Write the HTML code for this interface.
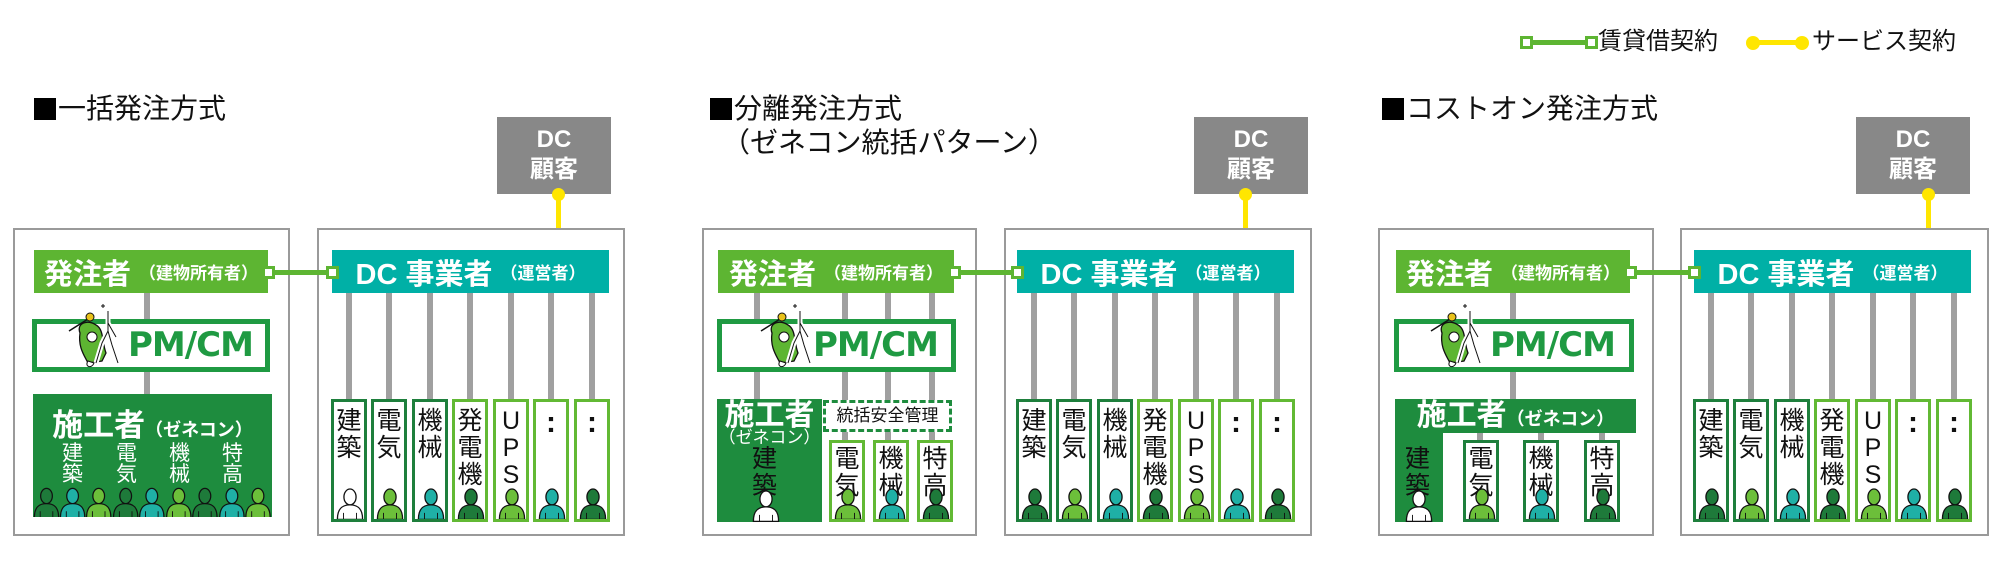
<!DOCTYPE html>
<html><head><meta charset="utf-8">
<style>
*{margin:0;padding:0;box-sizing:border-box}
body{width:2000px;height:568px;background:#fff;position:relative;overflow:hidden;font-family:"Liberation Sans","Noto Sans CJK JP",sans-serif}
.a{position:absolute}
.ob{position:absolute;top:228px;height:308px;border:2px solid #9a9a9a;background:#fff}
.gl{position:absolute;width:6px;background:#a0a0a0}
.bar{position:absolute;top:250px;height:43px;display:flex;align-items:center;justify-content:center;color:#fff;font-weight:bold;white-space:nowrap}
.own{background:#5db532}
.dc{background:#00b0a6}
.big{font-size:29px}
.sm{font-size:17px;margin-left:8px}
.sq{position:absolute;width:13px;height:13px;border:3px solid #5db532;background:#fff;top:266px}
.cn{position:absolute;height:5px;background:#5db532;top:270px}
.pm{position:absolute;top:319px;height:53px;border:5px solid #1f9a42;background:#fff;color:#1f9a42;font-weight:bold;font-size:34px;line-height:43px;font-family:"DejaVu Sans","Liberation Sans",sans-serif;letter-spacing:-1px}
.col{position:absolute;top:399px;height:123px;width:36px;border:3px solid;background:#fff;overflow:hidden}
.dk{border-color:#1e7f3c}.lt{border-color:#62b934}
.vt{position:absolute;left:0;right:0;top:6px;text-align:center;font-size:25px;line-height:27px;color:#111}
.dt{font-size:30px;font-weight:bold;line-height:30px}
.col svg,.pp{position:absolute;bottom:-1px;left:2px;width:28px;height:33px}
.gc{position:absolute;top:117px;height:77px;width:114px;background:#888;color:#fff;font-weight:bold;text-align:center;font-size:24px;line-height:30px;padding-top:8px}
.yl{position:absolute;width:5px;background:#ffe600;top:194px;height:56px}
.yd{position:absolute;width:13px;height:13px;border-radius:50%;background:#ffe600}
.ttl{position:absolute;font-size:28px;color:#111;white-space:nowrap;line-height:34px}
.bk{display:inline-block;width:22px;height:22px;background:#000;vertical-align:-2px;margin-right:2px}
.sk{position:absolute;background:#1e8c3e}
</style></head><body>
<svg width="0" height="0" style="position:absolute">
<defs>
<symbol id="p" viewBox="0 0 30 34"><ellipse cx="15" cy="10" rx="6.5" ry="8.5" stroke="#111" stroke-width="1.4"/><path d="M1.5,34 C1.5,22 7,18.5 15,18.5 C23,18.5 28.5,22 28.5,34 Z" stroke="#111" stroke-width="1.4"/><path d="M8,27 V34 M22,27 V34" stroke="#111" stroke-width="1"/></symbol>
<symbol id="m" viewBox="0 0 60 66"><path d="M3,28 L22,16" stroke="#111" stroke-width="1.5"/><circle cx="24" cy="14" r="4" fill="#e8c21a" stroke="#111"/><path d="M14,30 C10,20 22,16 30,22 C38,26 36,40 40,50 L36,58 L22,60 C18,52 12,44 14,30Z" fill="#5db532" stroke="#111" stroke-width="1.3"/><circle cx="26" cy="34" r="5" fill="#fff" stroke="#111"/><path d="M22,58 C18,64 26,66 28,60Z" fill="#fff" stroke="#111"/><path d="M42,8 V28 L36,40 L30,60 M42,28 L46,42 L52,60 M42,20 L50,34 M36,8 l3,0 M37,2 v6" stroke="#fff" stroke-width="5" fill="none"/><path d="M42,8 V28 L36,40 L30,60 M42,28 L46,42 L52,60 M42,20 L50,34" stroke="#111" stroke-width="1" fill="none"/><path d="M35,3 h4 M37,1 v4" stroke="#111" stroke-width="1"/></symbol>
</defs></svg>

<!-- Legend -->
<div class="a" style="left:1526px;top:40px;width:66px;height:5px;background:#5db532"></div>
<div class="a" style="left:1520px;top:36px;width:13px;height:13px;border:3px solid #5db532;background:#fff"></div>
<div class="a" style="left:1585px;top:36px;width:13px;height:13px;border:3px solid #5db532;background:#fff"></div>
<div class="ttl" style="left:1598px;top:25px;font-size:24px">賃貸借契約</div>
<div class="a" style="left:1758px;top:40px;width:40px;height:5px;background:#ffe600"></div>
<div class="yd" style="left:1746px;top:36px;width:14px;height:14px"></div>
<div class="yd" style="left:1795px;top:36px;width:14px;height:14px"></div>
<div class="ttl" style="left:1812px;top:25px;font-size:24px">サービス契約</div>

<!-- Titles -->
<div class="ttl" style="left:34px;top:92px"><span class="bk"></span>一括発注方式</div>
<div class="ttl" style="left:710px;top:92px"><span class="bk"></span>分離発注方式</div>
<div class="ttl" style="left:722px;top:126px">（ゼネコン統括パターン）</div>
<div class="ttl" style="left:1382px;top:92px"><span class="bk"></span>コストオン発注方式</div>

<!-- DC customer boxes -->
<div class="gc" style="left:497px">DC<br>顧客</div>
<div class="yl" style="left:556px"></div><div class="yd" style="left:552px;top:188px"></div><div class="yd" style="left:552px;top:244px"></div>
<div class="gc" style="left:1194px">DC<br>顧客</div>
<div class="yl" style="left:1243px"></div><div class="yd" style="left:1239px;top:188px"></div><div class="yd" style="left:1239px;top:244px"></div>
<div class="gc" style="left:1856px">DC<br>顧客</div>
<div class="yl" style="left:1926px"></div><div class="yd" style="left:1922px;top:188px"></div><div class="yd" style="left:1922px;top:244px"></div>

<!-- ========== Panel 1 ========== -->
<div class="ob" style="left:13px;width:277px"></div>
<div class="ob" style="left:317px;width:308px;border-top-width:2px"></div>
<div class="gl" style="left:144px;top:293px;height:101px"></div>
<div class="bar own" style="left:34px;width:234px"><span class="big">発注者</span><span class="sm">（建物所有者）</span></div>
<div class="pm" style="left:32px;width:238px;padding-left:91px">PM/CM</div>
<svg class="a" style="left:66px;top:303px" width="60" height="66"><use href="#m"/></svg>
<div class="sk" style="left:33px;top:394px;width:239px;height:123px"></div>
<div class="a" style="left:33px;top:400px;width:239px;text-align:center;color:#fff;font-weight:bold;white-space:nowrap"><span style="font-size:31px">施工者</span><span style="font-size:18px">（ゼネコン）</span></div>
<div class="a" style="left:62px;top:443px;width:22px;color:#fff;font-size:21px;line-height:21px">建<br>築</div>
<div class="a" style="left:116px;top:443px;width:22px;color:#fff;font-size:21px;line-height:21px">電<br>気</div>
<div class="a" style="left:169px;top:443px;width:22px;color:#fff;font-size:21px;line-height:21px">機<br>械</div>
<div class="a" style="left:222px;top:443px;width:22px;color:#fff;font-size:21px;line-height:21px">特<br>高</div>
<svg class="a" style="left:33px;top:487px;overflow:hidden" width="239" height="30">
<g transform="scale(0.9,0.9)">
<use href="#p" x="0" y="0" width="30" height="34" fill="#1e7a3a"/>
<use href="#p" x="29" y="0" width="30" height="34" fill="#1fb0a6"/>
<use href="#p" x="58" y="0" width="30" height="34" fill="#6cbf3a"/>
<use href="#p" x="88" y="0" width="30" height="34" fill="#1e7a3a"/>
<use href="#p" x="117" y="0" width="30" height="34" fill="#1fb0a6"/>
<use href="#p" x="147" y="0" width="30" height="34" fill="#6cbf3a"/>
<use href="#p" x="176" y="0" width="30" height="34" fill="#1e7a3a"/>
<use href="#p" x="206" y="0" width="30" height="34" fill="#1fb0a6"/>
<use href="#p" x="235" y="0" width="30" height="34" fill="#6cbf3a"/>
</g></svg>
<!-- DC side -->
<div class="gl" style="left:346px;top:293px;height:108px"></div>
<div class="gl" style="left:386px;top:293px;height:108px"></div>
<div class="gl" style="left:427px;top:293px;height:108px"></div>
<div class="gl" style="left:467px;top:293px;height:108px"></div>
<div class="gl" style="left:508px;top:293px;height:108px"></div>
<div class="gl" style="left:548px;top:293px;height:108px"></div>
<div class="gl" style="left:589px;top:293px;height:108px"></div>
<div class="bar dc" style="left:332px;width:277px"><span class="big">DC 事業者</span><span class="sm">（運営者）</span></div>
<div class="cn" style="left:268px;width:64px"></div>
<div class="sq" style="left:262px"></div><div class="sq" style="left:326px"></div>
<div class="col dk" style="left:331px"><div class="vt">建<br>築</div><svg><use href="#p" fill="#fff"/></svg></div>
<div class="col dk" style="left:371px"><div class="vt">電<br>気</div><svg><use href="#p" fill="#6cbf3a"/></svg></div>
<div class="col dk" style="left:412px"><div class="vt">機<br>械</div><svg><use href="#p" fill="#1fb0a6"/></svg></div>
<div class="col lt" style="left:452px"><div class="vt">発<br>電<br>機</div><svg><use href="#p" fill="#1e7a3a"/></svg></div>
<div class="col lt" style="left:493px"><div class="vt">U<br>P<br>S</div><svg><use href="#p" fill="#6cbf3a"/></svg></div>
<div class="col lt" style="left:533px"><div class="vt dt">:</div><svg><use href="#p" fill="#1fb0a6"/></svg></div>
<div class="col lt" style="left:574px"><div class="vt dt">:</div><svg><use href="#p" fill="#1e7a3a"/></svg></div>

<!-- ========== Panel 2 ========== -->
<div class="ob" style="left:702px;width:275px"></div>
<div class="ob" style="left:1004px;width:308px"></div>
<div class="gl" style="left:754px;top:293px;height:108px"></div>
<div class="gl" style="left:842px;top:293px;height:148px"></div>
<div class="gl" style="left:885px;top:293px;height:148px"></div>
<div class="gl" style="left:929px;top:293px;height:148px"></div>
<div class="bar own" style="left:718px;width:236px"><span class="big">発注者</span><span class="sm">（建物所有者）</span></div>
<div class="pm" style="left:717px;width:239px;padding-left:91px">PM/CM</div>
<svg class="a" style="left:758px;top:303px" width="60" height="66"><use href="#m"/></svg>
<div class="sk" style="left:717px;top:399px;width:105px;height:123px"></div>
<div class="a" style="left:717px;top:398px;width:105px;text-align:center;color:#fff;font-weight:bold;font-size:30px;line-height:36px">施工者</div>
<div class="a" style="left:717px;top:428px;width:105px;text-align:center;color:#fff;font-size:17px;line-height:20px;white-space:nowrap">（ゼネコン）</div>
<div class="a" style="left:752px;top:446px;width:28px;color:#111;font-size:25px;line-height:27px">建<br>築</div>
<svg class="pp" style="left:752px;top:489px"><use href="#p" fill="#fff"/></svg>
<div class="a" style="left:823px;top:400px;width:129px;height:32px;border:3px dashed #1e8c3e;background:#fff;font-size:17px;line-height:26px;text-align:center;color:#111;white-space:nowrap">統括安全管理</div>
<div class="col lt" style="left:829px;top:440px;height:82px"><div class="vt" style="top:3px">電<br>気</div><svg><use href="#p" fill="#6cbf3a"/></svg></div>
<div class="col lt" style="left:873px;top:440px;height:82px"><div class="vt" style="top:3px">機<br>械</div><svg><use href="#p" fill="#1fb0a6"/></svg></div>
<div class="col lt" style="left:917px;top:440px;height:82px"><div class="vt" style="top:3px">特<br>高</div><svg><use href="#p" fill="#1e7a3a"/></svg></div>
<!-- DC side -->
<div class="gl" style="left:1031px;top:293px;height:108px"></div>
<div class="gl" style="left:1071px;top:293px;height:108px"></div>
<div class="gl" style="left:1112px;top:293px;height:108px"></div>
<div class="gl" style="left:1152px;top:293px;height:108px"></div>
<div class="gl" style="left:1193px;top:293px;height:108px"></div>
<div class="gl" style="left:1233px;top:293px;height:108px"></div>
<div class="gl" style="left:1274px;top:293px;height:108px"></div>
<div class="bar dc" style="left:1017px;width:277px"><span class="big">DC 事業者</span><span class="sm">（運営者）</span></div>
<div class="cn" style="left:954px;width:63px"></div>
<div class="sq" style="left:948px"></div><div class="sq" style="left:1011px"></div>
<div class="col dk" style="left:1016px"><div class="vt">建<br>築</div><svg><use href="#p" fill="#1e7a3a"/></svg></div>
<div class="col dk" style="left:1056px"><div class="vt">電<br>気</div><svg><use href="#p" fill="#6cbf3a"/></svg></div>
<div class="col dk" style="left:1097px"><div class="vt">機<br>械</div><svg><use href="#p" fill="#1fb0a6"/></svg></div>
<div class="col lt" style="left:1137px"><div class="vt">発<br>電<br>機</div><svg><use href="#p" fill="#1e7a3a"/></svg></div>
<div class="col lt" style="left:1178px"><div class="vt">U<br>P<br>S</div><svg><use href="#p" fill="#6cbf3a"/></svg></div>
<div class="col lt" style="left:1218px"><div class="vt dt">:</div><svg><use href="#p" fill="#1fb0a6"/></svg></div>
<div class="col lt" style="left:1259px"><div class="vt dt">:</div><svg><use href="#p" fill="#1e7a3a"/></svg></div>

<!-- ========== Panel 3 ========== -->
<div class="ob" style="left:1378px;width:276px"></div>
<div class="ob" style="left:1680px;width:309px"></div>
<div class="gl" style="left:1510px;top:293px;height:108px"></div>
<div class="gl" style="left:1477px;top:430px;height:12px"></div>
<div class="gl" style="left:1538px;top:430px;height:12px"></div>
<div class="gl" style="left:1599px;top:430px;height:12px"></div>
<div class="bar own" style="left:1396px;width:234px"><span class="big">発注者</span><span class="sm">（建物所有者）</span></div>
<div class="pm" style="left:1394px;width:240px;padding-left:91px">PM/CM</div>
<svg class="a" style="left:1428px;top:303px" width="60" height="66"><use href="#m"/></svg>
<div class="sk" style="left:1395px;top:399px;width:241px;height:34px"></div>
<div class="sk" style="left:1395px;top:399px;width:48px;height:123px"></div>
<div class="a" style="left:1395px;top:398px;width:241px;text-align:center;color:#fff;font-weight:bold;white-space:nowrap;line-height:36px"><span style="font-size:30px">施工者</span><span style="font-size:18px">（ゼネコン）</span></div>
<div class="a" style="left:1405px;top:446px;width:28px;color:#111;font-size:25px;line-height:27px">建<br>築</div>
<svg class="pp" style="left:1405px;top:489px"><use href="#p" fill="#fff"/></svg>
<div class="col dk" style="left:1463px;top:440px;height:82px"><div class="vt" style="top:3px">電<br>気</div><svg><use href="#p" fill="#6cbf3a"/></svg></div>
<div class="col dk" style="left:1523px;top:440px;height:82px"><div class="vt" style="top:3px">機<br>械</div><svg><use href="#p" fill="#1fb0a6"/></svg></div>
<div class="col dk" style="left:1584px;top:440px;height:82px"><div class="vt" style="top:3px">特<br>高</div><svg><use href="#p" fill="#1e7a3a"/></svg></div>
<!-- DC side -->
<div class="gl" style="left:1708px;top:293px;height:108px"></div>
<div class="gl" style="left:1748px;top:293px;height:108px"></div>
<div class="gl" style="left:1789px;top:293px;height:108px"></div>
<div class="gl" style="left:1829px;top:293px;height:108px"></div>
<div class="gl" style="left:1870px;top:293px;height:108px"></div>
<div class="gl" style="left:1910px;top:293px;height:108px"></div>
<div class="gl" style="left:1951px;top:293px;height:108px"></div>
<div class="bar dc" style="left:1694px;width:277px"><span class="big">DC 事業者</span><span class="sm">（運営者）</span></div>
<div class="cn" style="left:1630px;width:64px"></div>
<div class="sq" style="left:1624px"></div><div class="sq" style="left:1688px"></div>
<div class="col dk" style="left:1693px"><div class="vt">建<br>築</div><svg><use href="#p" fill="#1e7a3a"/></svg></div>
<div class="col dk" style="left:1733px"><div class="vt">電<br>気</div><svg><use href="#p" fill="#6cbf3a"/></svg></div>
<div class="col dk" style="left:1774px"><div class="vt">機<br>械</div><svg><use href="#p" fill="#1fb0a6"/></svg></div>
<div class="col lt" style="left:1814px"><div class="vt">発<br>電<br>機</div><svg><use href="#p" fill="#1e7a3a"/></svg></div>
<div class="col lt" style="left:1855px"><div class="vt">U<br>P<br>S</div><svg><use href="#p" fill="#6cbf3a"/></svg></div>
<div class="col lt" style="left:1895px"><div class="vt dt">:</div><svg><use href="#p" fill="#1fb0a6"/></svg></div>
<div class="col lt" style="left:1936px"><div class="vt dt">:</div><svg><use href="#p" fill="#1e7a3a"/></svg></div>
</body></html>
